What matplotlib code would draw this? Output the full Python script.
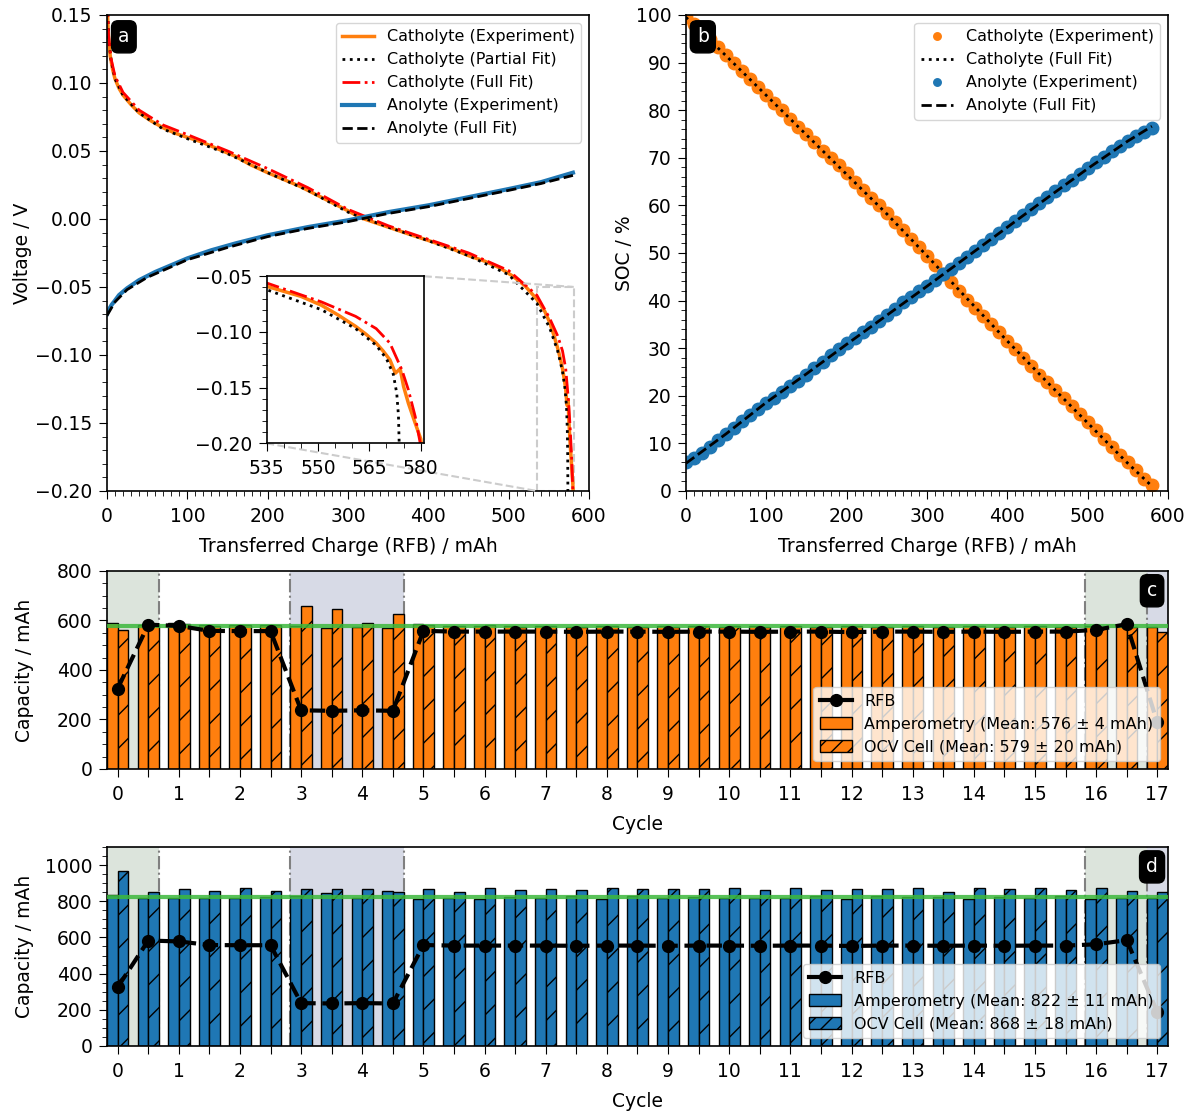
import matplotlib
matplotlib.use('Agg')
import matplotlib.pyplot as plt
from matplotlib.ticker import MultipleLocator
from matplotlib.lines import Line2D
from matplotlib.patches import Patch
from mpl_toolkits.axes_grid1.inset_locator import mark_inset

plt.rcParams['font.size'] = 13.5
plt.rcParams['legend.fontsize'] = 11.5
plt.rcParams['axes.linewidth'] = 1.2
plt.rcParams['xtick.major.size'] = 5.5
plt.rcParams['ytick.major.size'] = 5.5
plt.rcParams['xtick.minor.size'] = 3.5
plt.rcParams['ytick.minor.size'] = 3.5
plt.rcParams['xtick.major.pad'] = 6
plt.rcParams['ytick.major.pad'] = 5

# ---- panel a: voltage vs transferred charge
cath_exp_x = [0, 1, 2, 4, 7, 10, 15, 20, 30, 40, 55, 70, 85, 100, 116, 140, 160, 178, 200, 220,
              240, 260, 280, 300, 315, 340, 360, 380, 406, 430, 450, 470, 489, 505, 520, 535, 545,
              551, 556, 561, 564, 567, 569, 571, 572.6, 574, 575, 576.4, 578.4, 580, 580.6]
cath_exp_v = [0.17, 0.145, 0.133, 0.12, 0.11, 0.103, 0.096, 0.091, 0.084, 0.078, 0.072, 0.067, 0.063,
              0.060, 0.057, 0.051, 0.046, 0.040, 0.034, 0.029, 0.024, 0.018, 0.012, 0.006, 0.001,
              -0.004, -0.008, -0.012, -0.017, -0.022, -0.027, -0.031, -0.036, -0.042, -0.049, -0.059,
              -0.068, -0.076, -0.085, -0.095, -0.102, -0.110, -0.117, -0.125, -0.137, -0.133, -0.149,
              -0.164, -0.182, -0.196, -0.21]
cath_pfit_x = [0, 2, 5, 10, 20, 40, 70, 100, 150, 200, 250, 300, 350, 400, 450, 500, 535, 551, 561,
               567, 570, 572, 573, 573.5, 573.8]
cath_pfit_v = [0.17, 0.133, 0.117, 0.103, 0.091, 0.078, 0.066, 0.059, 0.048, 0.034, 0.021, 0.005,
               -0.006, -0.016, -0.027, -0.041, -0.062, -0.080, -0.097, -0.112, -0.124, -0.138, -0.155,
               -0.175, -0.21]
cath_ffit_x = [0, 2, 5, 10, 20, 40, 70, 100, 150, 200, 250, 300, 350, 400, 450, 500, 535, 551, 561,
               567, 571, 574.5, 576.4, 578.4, 579.8, 580.3]
cath_ffit_v = [0.17, 0.135, 0.118, 0.105, 0.093, 0.080, 0.069, 0.062, 0.050, 0.037, 0.023, 0.007,
               -0.005, -0.015, -0.025, -0.038, -0.056, -0.073, -0.086, -0.097, -0.110, -0.134, -0.152,
               -0.176, -0.199, -0.21]
an_exp_x = [0, 3, 6, 10, 15, 25, 40, 60, 80, 100, 130, 160, 200, 250, 300, 350, 400, 450, 500, 540, 580]
an_exp_v = [-0.070, -0.066, -0.063, -0.060, -0.056, -0.051, -0.045, -0.039, -0.034, -0.029, -0.023,
            -0.018, -0.012, -0.006, -0.001, 0.005, 0.010, 0.016, 0.022, 0.027, 0.034]
an_fit_x = [0, 10, 25, 50, 100, 150, 200, 250, 300, 350, 400, 450, 500, 540, 580]
an_fit_v = [-0.071, -0.061, -0.052, -0.043, -0.030, -0.021, -0.013, -0.007, -0.002, 0.004, 0.009,
            0.015, 0.021, 0.026, 0.032]

# ---- panel b: SOC vs transferred charge
soc_x = list(range(0, 581, 10))
cath_soc = [99.5, 98, 96.5, 95, 93.2, 91.5, 89.8, 88.2, 86.5, 84.8, 83.2, 81.6, 80, 78.2, 76.5, 75,
            73.2, 71.5, 70, 68.4, 66.8, 65, 63.2, 61.6, 60, 58.4, 56.6, 54.8, 53, 51.2, 49.3, 47.5,
            45.6, 43.8, 42, 40.2, 38.5, 36.8, 35, 33.3, 31.6, 29.8, 28, 26.2, 24.4, 22.8, 21.2, 19.5,
            17.8, 16.1, 14.5, 12.8, 11, 9.3, 7.6, 6, 4.3, 2.6, 1.2]
an_soc = [6, 7, 8, 9.2, 10.6, 12, 13.2, 14.6, 16, 17.3, 18.5, 19.6, 20.8, 22, 23, 24.4, 25.8, 27,
          28.5, 29.8, 31, 32.2, 33.3, 34.5, 35.8, 37, 38.2, 39.6, 40.8, 42, 43.1, 44.3, 45.5, 46.6,
          47.8, 49.2, 50.4, 51.6, 52.9, 54.2, 55.5, 56.8, 58, 59.2, 60.4, 61.7, 63, 64.2, 65.4, 66.6,
          67.9, 69, 70.2, 71.4, 72.5, 73.6, 74.6, 75.5, 76.3]
fit_x = [0, 50, 100, 150, 200, 250, 300, 350, 400, 450, 500, 550, 580]
cath_soc_fit = [99.5, 91.4, 83.1, 74.8, 66.5, 58.2, 49.4, 40.4, 31.5, 22.8, 14.3, 5.8, 1.0]
an_soc_fit = [5.8, 12.0, 18.6, 24.6, 30.8, 36.9, 43.0, 49.2, 55.4, 61.6, 67.7, 73.5, 76.6]

# ---- panels c/d: capacities per half cycle
cycles = [i * 0.5 for i in range(35)]
rfb = [325, 583, 578, 558, 557, 557, 237, 235, 237, 235, 558, 555, 555, 555, 555, 554, 555, 555,
       554, 555, 555, 554, 555, 555, 553, 555, 555, 554, 555, 554, 555, 555, 562, 585, 188]
amp_c = [589, 581, 589, 582, 582, 580, 576, 570, 573, 570, 586, 579, 578, 576, 577, 575, 578, 574,
         576, 577, 575, 578, 576, 574, 577, 575, 576, 573, 577, 575, 576, 574, 576, 578, 575]
ocv_c = [562, 583, 586, 578, 582, 580, 660, 645, 591, 626, 582, 578, 580, 575, 577, 572, 578, 575,
         574, 577, 576, 573, 577, 575, 578, 574, 576, 575, 577, 573, 576, 574, 570, 575, 555]
amp_d = [834, 816, 816, 820, 820, 825, 829, 847, 820, 858, 812, 816, 810, 825, 816, 829, 810, 829,
         816, 825, 816, 820, 816, 829, 814, 829, 821, 821, 814, 821, 816, 829, 810, 820, 816]
ocv_d = [967, 849, 866, 857, 872, 857, 866, 868, 868, 853, 870, 849, 875, 862, 867, 862, 871, 866,
         867, 866, 871, 860, 871, 862, 866, 866, 875, 853, 871, 866, 871, 862, 871, 857, 852]
mean_c = (576, 4, 579, 20)
mean_d = (822, 11, 868, 18)
# shaded phases (start, end, colour) and their borders
phases = [(-0.175, 0.675, '#dce4dc'), (2.825, 4.675, '#d7dae6'),
          (15.825, 16.825, '#dce4dc'), (16.825, 17.175, '#d7dae6')]
phase_lines = [0.675, 2.825, 4.675, 15.825, 16.825]

orange = '#ff7f0e'
blue = '#1f77b4'

fig = plt.figure(figsize=(11.94, 11.13), dpi=100)
ax_a = fig.add_axes([0.0896, 0.5589, 0.4037, 0.4277])
ax_b = fig.add_axes([0.5745, 0.5589, 0.4037, 0.4277])
ax_c = fig.add_axes([0.0896, 0.3091, 0.8886, 0.1779])
ax_d = fig.add_axes([0.0896, 0.0602, 0.8886, 0.1788])


def panel_label(ax, s, x, y, ha):
    ax.text(x, y, s, transform=ax.transAxes, color='white', fontsize=13.5, ha=ha, va='center',
            bbox=dict(boxstyle='round,pad=0.35', fc='black', ec='black'), zorder=10)


# panel a
ax_a.plot(cath_exp_x, cath_exp_v, color=orange, lw=2.5, label='Catholyte (Experiment)')
ax_a.plot(cath_pfit_x, cath_pfit_v, color='black', ls=':', lw=2, label='Catholyte (Partial Fit)')
ax_a.plot(cath_ffit_x, cath_ffit_v, color='red', ls='-.', lw=2, label='Catholyte (Full Fit)')
ax_a.plot(an_exp_x, an_exp_v, color=blue, lw=3, label='Anolyte (Experiment)')
ax_a.plot(an_fit_x, an_fit_v, color='black', ls='--', lw=2, label='Anolyte (Full Fit)')
ax_a.set_xlim(0, 600)
ax_a.set_ylim(-0.2, 0.15)
ax_a.xaxis.set_minor_locator(MultipleLocator(10))
ax_a.yaxis.set_minor_locator(MultipleLocator(0.01))
ax_a.set_xlabel('Transferred Charge (RFB) / mAh', labelpad=8)
ax_a.set_ylabel('Voltage / V')
ax_a.yaxis.set_label_coords(-0.156, 0.5)
ax_a.legend(loc='upper right')
panel_label(ax_a, 'a', 0.035, 0.954, 'center')

axins = ax_a.inset_axes([0.331, 0.100, 0.327, 0.351])
axins.plot(cath_exp_x, cath_exp_v, color=orange, lw=2.5)
axins.plot(cath_pfit_x, cath_pfit_v, color='black', ls=':', lw=2)
axins.plot(cath_ffit_x, cath_ffit_v, color='red', ls='-.', lw=2)
axins.set_xlim(535, 581)
axins.set_ylim(-0.2, -0.05)
axins.set_xticks([535, 550, 565, 580])
axins.set_yticks([-0.05, -0.10, -0.15, -0.20])
axins.xaxis.set_minor_locator(MultipleLocator(5))
axins.yaxis.set_minor_locator(MultipleLocator(0.01))
mark_inset(ax_a, axins, loc1=1, loc2=3, fc='none', ec='0.8', ls='--', lw=1.5)

# panel b
ax_b.plot(soc_x, cath_soc, 'o', color=orange, ms=9, label='Catholyte (Experiment)')
ax_b.plot(fit_x, cath_soc_fit, color='black', ls=':', lw=2, label='Catholyte (Full Fit)')
ax_b.plot(soc_x, an_soc, 'o', color=blue, ms=9, label='Anolyte (Experiment)')
ax_b.plot(fit_x, an_soc_fit, color='black', ls='--', lw=2, label='Anolyte (Full Fit)')
ax_b.set_xlim(0, 600)
ax_b.set_ylim(0, 100)
ax_b.set_yticks(range(0, 101, 10))
ax_b.xaxis.set_minor_locator(MultipleLocator(10))
ax_b.yaxis.set_minor_locator(MultipleLocator(2))
ax_b.set_xlabel('Transferred Charge (RFB) / mAh', labelpad=8)
ax_b.set_ylabel('SOC / %')
ax_b.yaxis.set_label_coords(-0.108, 0.5)
ax_b.legend(loc='upper right', markerscale=0.6)
panel_label(ax_b, 'b', 0.035, 0.954, 'center')


# panels c and d
def capacity_panel(ax, amp, ocv, means, color, ymax, label):
    w = 0.175
    for start, end, col in phases:
        ax.axvspan(start, end, color=col, zorder=0, lw=0)
    for xl in phase_lines:
        ax.axvline(xl, color='grey', ls='-.', lw=1.5, zorder=0.5)
    ax.bar([c - w / 2 for c in cycles], amp, width=w, color=color, edgecolor='black', lw=1, zorder=2)
    ax.bar([c + w / 2 for c in cycles], ocv, width=w, color=color, edgecolor='black', lw=1,
           hatch='/', zorder=2)
    ax.axhline(means[0], color='#3cb83c', lw=3, alpha=0.85, zorder=3)
    ax.plot(cycles, rfb, color='black', ls='--', lw=3, marker='o', ms=8.5, zorder=4)
    ax.set_xlim(-0.175, 17.175)
    ax.set_ylim(0, ymax)
    ax.set_xticks(cycles)
    ax.set_xticklabels([str(int(c)) if c == int(c) else '' for c in cycles])
    ax.yaxis.set_minor_locator(MultipleLocator(50))
    ax.set_xlabel('Cycle', labelpad=8)
    ax.set_ylabel('Capacity / mAh')
    ax.yaxis.set_label_coords(-0.0688, 0.5)
    handles = [Line2D([], [], color='black', lw=3, marker='o', ms=8.5),
               Patch(facecolor=color, edgecolor='black'),
               Patch(facecolor=color, edgecolor='black', hatch='//')]
    labels = ['RFB',
              f'Amperometry (Mean: {means[0]} \u00b1 {means[1]} mAh)',
              f'OCV Cell (Mean: {means[2]} \u00b1 {means[3]} mAh)']
    ax.legend(handles, labels, loc='lower right', fontsize=11.5)
    panel_label(ax, label, 0.985, 0.9, 'center')


capacity_panel(ax_c, amp_c, ocv_c, mean_c, orange, 800, 'c')
ax_c.set_yticks(range(0, 801, 200))
capacity_panel(ax_d, amp_d, ocv_d, mean_d, blue, 1100, 'd')
ax_d.set_yticks(range(0, 1001, 200))

fig.savefig('out.png', dpi=100)
